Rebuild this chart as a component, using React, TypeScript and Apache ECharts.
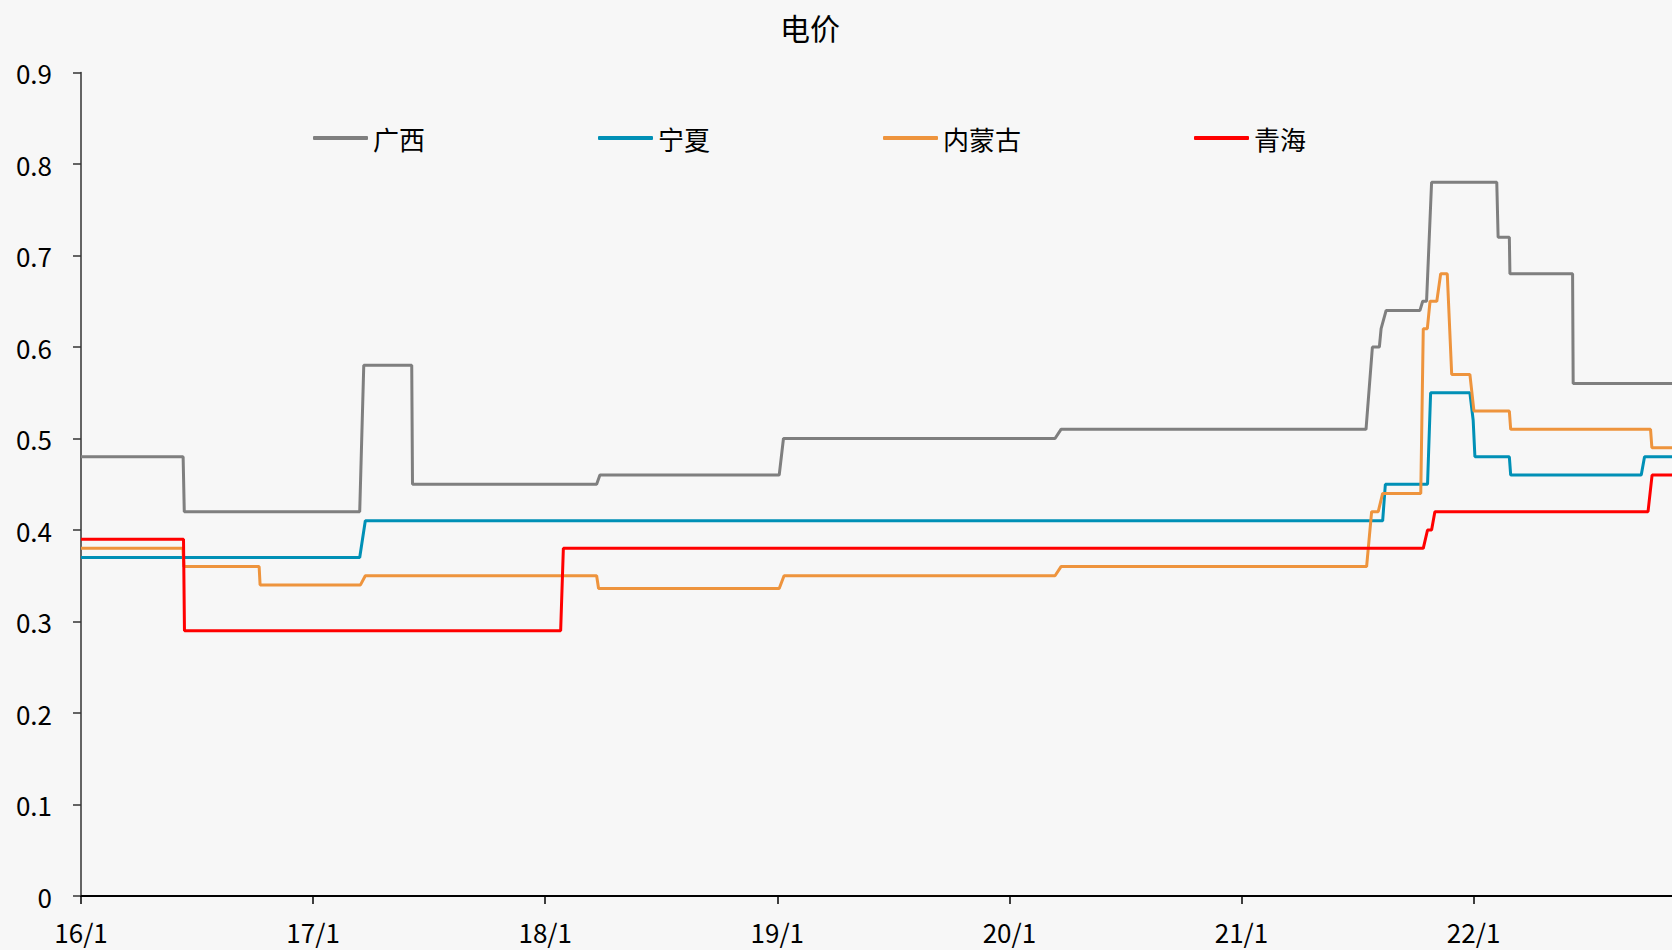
import React, { useEffect, useRef } from "react";
import * as echarts from "echarts";

// x values are months counted from 2016/1
const xTickLabels = ["16/1", "17/1", "18/1", "19/1", "20/1", "21/1", "22/1"];
const seriesNames = ["广西", "宁夏", "内蒙古", "青海"];
const seriesColors = ["#7f7f7f", "#0090b6", "#ee943d", "#ff0000"];
const xEnd = 82.26;

const guangxiMonths = [0, 5.28, 5.34, 14.41, 14.62, 17.1, 17.14, 26.66, 26.83, 36.1, 36.32, 50.36, 50.67, 66.44, 66.77, 67.13, 67.22, 67.48, 69.23, 69.37, 69.57, 69.83, 73.2, 73.27, 73.85, 73.88, 77.12, 77.15, 82.26];
const guangxiValues = [0.48, 0.48, 0.42, 0.42, 0.58, 0.58, 0.45, 0.45, 0.46, 0.46, 0.5, 0.5, 0.51, 0.51, 0.6, 0.6, 0.62, 0.64, 0.64, 0.65, 0.65, 0.78, 0.78, 0.72, 0.72, 0.68, 0.68, 0.56, 0.56];

const ningxiaMonths = [0, 14.41, 14.7, 67.3, 67.44, 69.62, 69.78, 71.81, 71.98, 72.07, 73.85, 73.92, 80.67, 80.84, 82.26];
const ningxiaValues = [0.37, 0.37, 0.41, 0.41, 0.45, 0.45, 0.55, 0.55, 0.52, 0.48, 0.48, 0.46, 0.46, 0.48, 0.48];

const neimengguMonths = [0, 5.27, 5.32, 9.21, 9.26, 14.45, 14.7, 26.66, 26.76, 36.1, 36.35, 50.36, 50.67, 66.47, 66.73, 67.07, 67.3, 69.27, 69.4, 69.61, 69.75, 70.1, 70.3, 70.64, 70.87, 71.81, 72.02, 73.85, 73.92, 81.15, 81.22, 82.26];
const neimengguValues = [0.38, 0.38, 0.36, 0.36, 0.34, 0.34, 0.35, 0.35, 0.336, 0.336, 0.35, 0.35, 0.36, 0.36, 0.42, 0.42, 0.44, 0.44, 0.62, 0.62, 0.65, 0.65, 0.68, 0.68, 0.57, 0.57, 0.53, 0.53, 0.51, 0.51, 0.49, 0.49];

const qinghaiMonths = [0, 5.3, 5.35, 24.8, 24.94, 69.4, 69.62, 69.83, 70.0, 81.02, 81.23, 82.26];
const qinghaiValues = [0.39, 0.39, 0.29, 0.29, 0.38, 0.38, 0.4, 0.4, 0.42, 0.42, 0.46, 0.46];

const allMonths = [guangxiMonths, ningxiaMonths, neimengguMonths, qinghaiMonths];
const allValues = [guangxiValues, ningxiaValues, neimengguValues, qinghaiValues];

const FONT = "'Noto Sans CJK SC', 'Noto Sans', sans-serif";

export default function App() {
  const ref = useRef<HTMLDivElement>(null);
  useEffect(() => {
    if (!ref.current) return;
    const chart = echarts.init(ref.current, undefined, { renderer: "svg" });
    chart.setOption({
      animation: false,
      backgroundColor: "#f7f7f7",
      title: {
        text: "电价",
        left: 780,
        top: 12,
        padding: 0,
        textStyle: { fontFamily: FONT, fontSize: 30, fontWeight: "normal", color: "#000" },
      },
      legend: {
        data: seriesNames,
        left: 313,
        top: 125,
        padding: 0,
        icon: "roundRect",
        itemWidth: 55,
        itemHeight: 4,
        itemGap: 173,
        textStyle: { fontFamily: FONT, fontSize: 26, color: "#000" },
      },
      grid: { left: 81, right: 0, top: 72.5, bottom: 54 },
      xAxis: {
        type: "value",
        min: 0,
        max: xEnd,
        interval: 12,
        splitLine: { show: false },
        axisLine: { show: true, lineStyle: { color: "#000", width: 2 } },
        axisTick: { show: true, length: 8, lineStyle: { color: "#000", width: 1.5 } },
        axisLabel: {
          margin: 22,
          showMaxLabel: false,
          fontFamily: FONT,
          fontSize: 26,
          color: "#000",
          formatter: (v: number) => (Math.abs(v % 12) < 1e-6 ? xTickLabels[Math.round(v / 12)] ?? "" : ""),
        },
      },
      yAxis: {
        type: "value",
        min: 0,
        max: 0.9,
        interval: 0.1,
        splitLine: { show: false },
        axisLine: { show: true, lineStyle: { color: "#333", width: 1.5 } },
        axisTick: { show: true, length: 8, lineStyle: { color: "#333", width: 1.5 } },
        axisLabel: {
          margin: 29,
          fontFamily: FONT,
          fontSize: 26,
          color: "#000",
          formatter: (v: number) => String(Number(v.toFixed(1))),
        },
      },
      series: seriesNames.map((name, i) => ({
        name,
        type: "line",
        showSymbol: false,
        symbol: "none",
        color: seriesColors[i],
        lineStyle: { color: seriesColors[i], width: 3 },
        data: allMonths[i].map((m, j) => [m, allValues[i][j]]),
      })),
    });
    return () => chart.dispose();
  }, []);
  return (
    <div
      ref={ref}
      style={{ position: "fixed", left: 0, top: 0, width: 1672, height: 950 }}
    />
  );
}
